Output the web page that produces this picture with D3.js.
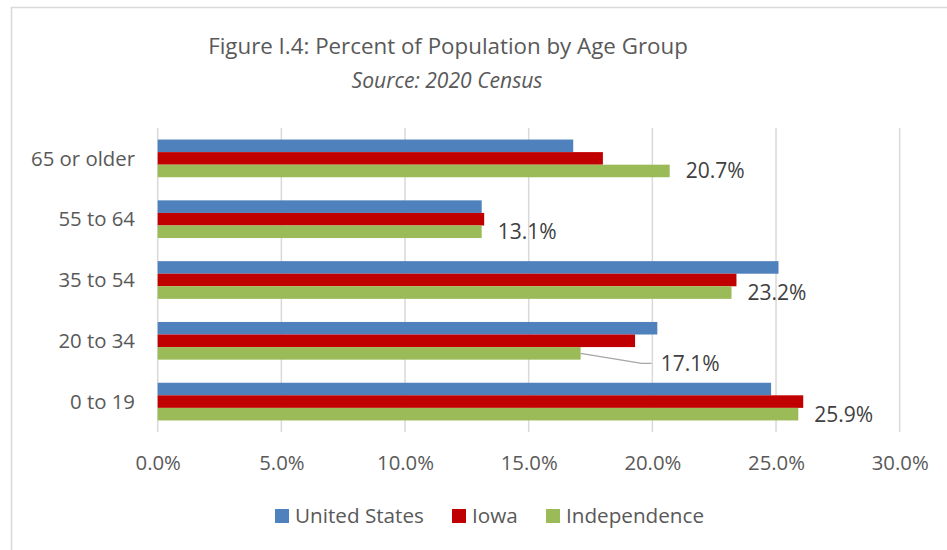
<!DOCTYPE html>
<html>
<head>
<meta charset="utf-8">
<script src="https://cdn.jsdelivr.net/npm/d3@7"></script>
<style>
  html, body { margin: 0; padding: 0; background: #fff; }
  svg { display: block; }
  text { font-family: "Open Sans", Lato, sans-serif; }
</style>
</head>
<body>
<svg id="chart" width="947" height="550"></svg>
<script>
// ---- data ----
const categories = ["65 or older", "55 to 64", "35 to 54", "20 to 34", "0 to 19"];
const seriesNames = ["United States", "Iowa", "Independence"];
const unitedStates = [16.8, 13.1, 25.1, 20.2, 24.8];
const iowa = [18.0, 13.2, 23.4, 19.3, 26.1];
const independence = [20.7, 13.1, 23.2, 17.1, 25.9];
const independenceLabels = ["20.7%", "13.1%", "23.2%", "17.1%", "25.9%"];
const xTicks = [0, 5, 10, 15, 20, 25, 30];
const title = "Figure I.4: Percent of Population by Age Group";
const subtitle = "Source: 2020 Census";

const seriesValues = [unitedStates, iowa, independence];
const colors = ["#4F81BD", "#C00000", "#9BBB59"];

const svg = d3.select("#chart");

// size a font so that a sample text reaches a target width
function fitSize(sample, target, opts) {
  const t = svg.append("text").attr("font-size", 20).text(sample);
  if (opts && opts.italic) t.attr("font-style", "italic");
  const w = t.node().getComputedTextLength();
  t.remove();
  return 20 * target / w;
}
const fsCat = fitSize("65 or older", 104);
const fsTick = fitSize("10.0%", 57);
const fsLegend = fitSize("United States", 129);
const fsLabel = fitSize("20.7%", 59);
const fsTitle = fitSize(title, 480);
const fsSub = fitSize(subtitle, 191, { italic: true });

// chart border (partially visible)
svg.append("path")
  .attr("d", "M11.5,550 L11.5,7.5 L947,7.5")
  .attr("fill", "none").attr("stroke", "#D9D9D9").attr("stroke-width", 1.5);

const plotLeft = 157.7, plotRight = 899.7, plotTop = 128, plotBottom = 432;

const x = d3.scaleLinear().domain([0, 30]).range([plotLeft, plotRight]);
const y0 = d3.scaleBand().domain(categories).range([plotTop, plotBottom]).paddingInner(0.38).paddingOuter(0.19);
const y1 = d3.scaleBand().domain(seriesNames).range([0, y0.bandwidth()]);

// gridlines
svg.append("g").selectAll("line").data(xTicks).join("line")
  .attr("x1", d => x(d)).attr("x2", d => x(d))
  .attr("y1", plotTop).attr("y2", plotBottom)
  .attr("stroke", "#D9D9D9").attr("stroke-width", 1.5);

// x axis labels
const xAxis = d3.axisBottom(x).tickValues(xTicks).tickFormat(d => d3.format(".1f")(d) + "%").tickSize(0).tickPadding(0);
const xg = svg.append("g").attr("transform", `translate(0,${plotBottom})`).call(xAxis);
xg.select(".domain").remove();
xg.selectAll("text").attr("font-size", fsTick).attr("fill", "#595959").attr("dy", "0.35em").attr("y", 31)
  .attr("font-family", "'Open Sans', sans-serif");

// y axis labels
const yAxis = d3.axisLeft(y0).tickSize(0).tickPadding(0);
const yg = svg.append("g").attr("transform", `translate(135,0)`).call(yAxis);
yg.select(".domain").remove();
yg.selectAll("text").attr("font-size", fsCat).attr("fill", "#595959").attr("dy", "0.35em")
  .attr("font-family", "'Open Sans', sans-serif");

// bars
const groups = svg.append("g").selectAll("g").data(categories).join("g")
  .attr("transform", d => `translate(0,${y0(d)})`);
groups.selectAll("rect").data((c, i) => seriesNames.map((s, j) => ({ s, j, v: seriesValues[j][i] })))
  .join("rect")
  .attr("x", x(0))
  .attr("y", d => y1(d.s))
  .attr("width", d => x(d.v) - x(0))
  .attr("height", y1.bandwidth())
  .attr("fill", d => colors[d.j]);

// data labels for Independence
const lblG = svg.append("g");
categories.forEach((c, i) => {
  const v = independence[i];
  const by = y0(c) + y1("Independence") + y1.bandwidth() / 2;
  let lx = x(v) + 16, ly = by;
  if (c === "20 to 34") {
    lx = x(v) + 80; ly = by + 10;
    lblG.append("path")
      .attr("d", `M${x(v)},${by} L${lx - 19},${ly} L${lx - 9},${ly}`)
      .attr("fill", "none").attr("stroke", "#A6A6A6").attr("stroke-width", 1.3);
  }
  lblG.append("text").attr("x", lx).attr("y", ly).attr("dy", "0.35em")
    .attr("font-size", fsLabel).attr("fill", "#404040").text(independenceLabels[i]);
});

// title
svg.append("text").attr("x", 448).attr("y", 46).attr("dy", "0.35em").attr("text-anchor", "middle")
  .attr("font-size", fsTitle).attr("fill", "#595959").text(title);
svg.append("text").attr("x", 447).attr("y", 81).attr("dy", "0.35em").attr("text-anchor", "middle")
  .attr("font-size", fsSub).attr("font-style", "italic").attr("fill", "#595959").text(subtitle);

// legend
const legendX = [275, 452, 546];
const lg = svg.append("g");
seriesNames.forEach((s, j) => {
  lg.append("rect").attr("x", legendX[j]).attr("y", 509).attr("width", 14).attr("height", 14).attr("fill", colors[j]);
  lg.append("text").attr("x", legendX[j] + 20).attr("y", 516).attr("dy", "0.35em")
    .attr("font-size", fsLegend).attr("fill", "#595959").text(s);
});
</script>
</body>
</html>
